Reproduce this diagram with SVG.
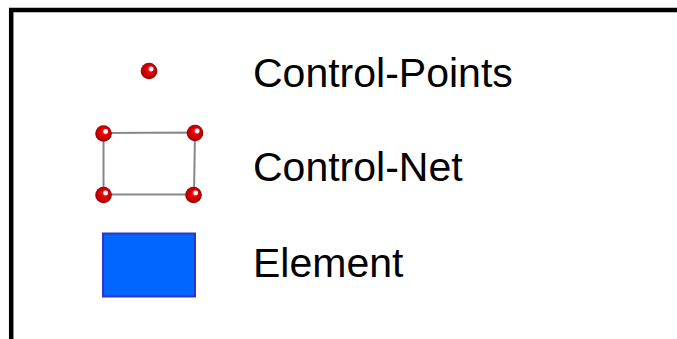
<svg xmlns="http://www.w3.org/2000/svg" width="677" height="339" viewBox="0 0 677 339">
  <defs>
    <radialGradient id="ball" cx="0.45" cy="0.5" r="0.55" fx="0.62" fy="0.35">
      <stop offset="0" stop-color="#ff6a6a"/>
      <stop offset="0.35" stop-color="#f00000"/>
      <stop offset="0.8" stop-color="#b00000"/>
      <stop offset="1" stop-color="#700000"/>
    </radialGradient>
    <g id="cp">
      <circle r="8.3" fill="url(#ball)"/>
      <circle cx="2.2" cy="-2" r="2.4" fill="#ffffff"/>
    </g>
  </defs>
  <style>
    .label { font-family: "Liberation Sans", Arial, sans-serif; font-size: 41px; fill: #000000; }
    .frame { fill: none; stroke: #000000; stroke-width: 4.5; }
    .net { fill: none; stroke: #888888; stroke-width: 2; }
    .elem { fill: #0066ff; stroke: #3333cc; stroke-width: 2; }
  </style>
  <rect width="677" height="339" fill="#ffffff"/>

  <!-- legend frame (open at right and bottom) -->
  <polyline class="frame" points="11.2,339 11.2,10 677,10"/>

  <g id="legend-control-points">
    <use href="#cp" x="149" y="71"/>
    <text class="label" x="253" y="86.5">Control-Points</text>
  </g>

  <g id="legend-control-net">
    <polygon class="net" points="103.5,133 195,132.5 194,194.5 103.5,194.5"/>
    <use href="#cp" x="103.5" y="133.5"/>
    <use href="#cp" x="195" y="133"/>
    <use href="#cp" x="103.5" y="195"/>
    <use href="#cp" x="193.5" y="195"/>
    <text class="label" x="253" y="181">Control-Net</text>
  </g>

  <g id="legend-element">
    <rect class="elem" x="103" y="233.5" width="92" height="63"/>
    <text class="label" x="253" y="277.3">Element</text>
  </g>
</svg>
